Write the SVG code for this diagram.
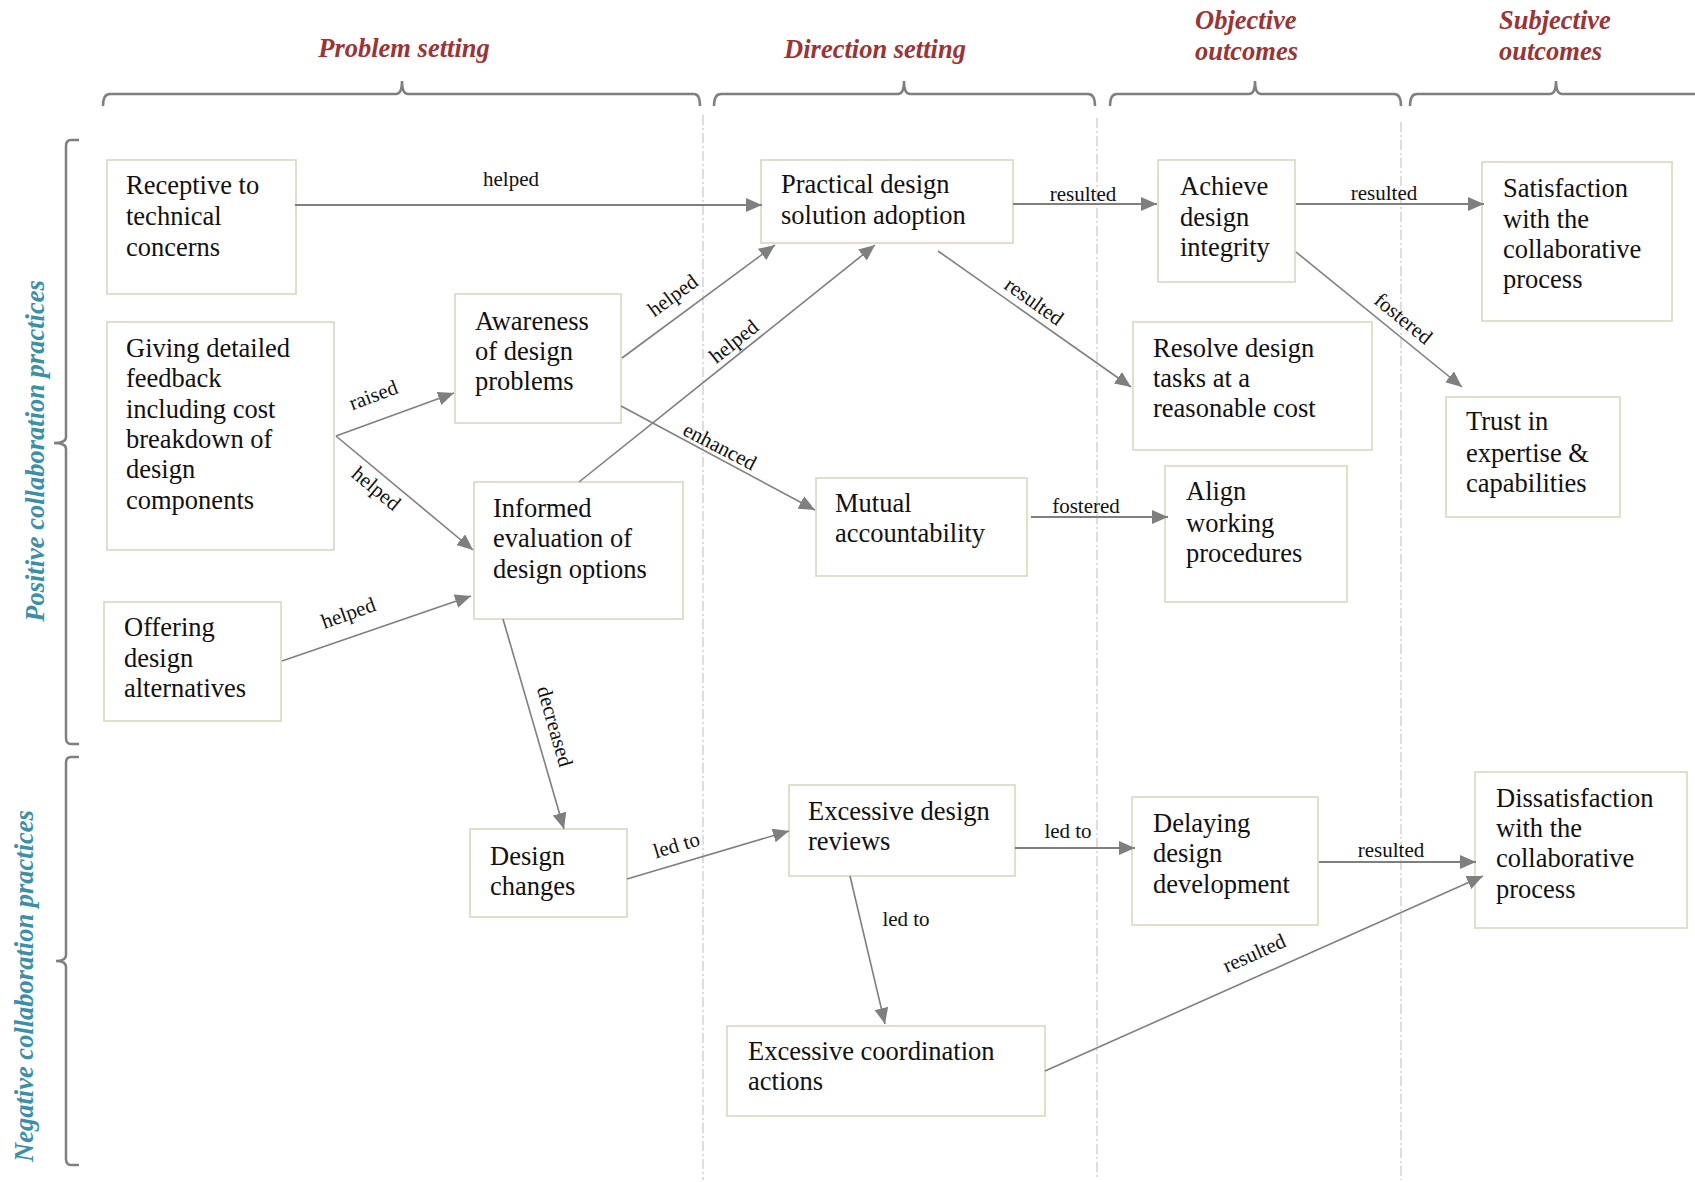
<svg xmlns="http://www.w3.org/2000/svg" width="1695" height="1182" viewBox="0 0 1695 1182">
  <defs>
    <marker id="arrow" viewBox="0 0 16 14" refX="16" refY="7" markerWidth="16" markerHeight="14" markerUnits="userSpaceOnUse" orient="auto">
      <path d="M0,0 L16,7 L0,14 Z" fill="#7f7f7f"/>
    </marker>
    <style>
      .node rect { fill: #ffffff; stroke: #d9d4bd; stroke-width: 1.5; }
      .node text { font-family: "Liberation Serif", "Times New Roman", serif; font-size: 26.5px; fill: #111111; }
      .phase { font-family: "Liberation Serif", "Times New Roman", serif; font-size: 26.5px; font-weight: bold; font-style: italic; fill: #9b3434; }
      .side { font-family: "Liberation Serif", "Times New Roman", serif; font-size: 26.5px; font-weight: bold; font-style: italic; fill: #3c8fa8; }
      .brace { fill: none; stroke: #7f7f7f; stroke-width: 2.5; }
      .lane { fill: none; stroke: #c9c9c9; stroke-width: 1.2; stroke-dasharray: 10 3 2 3; }
      .edge { fill: none; stroke: #7f7f7f; stroke-width: 1.6; marker-end: url(#arrow); }
      .edge.h { stroke-width: 2; }
      .lbl { font-family: "Liberation Serif", "Times New Roman", serif; font-size: 21px; fill: #111111; text-anchor: middle; }
    </style>
  </defs>

  <rect width="1695" height="1182" fill="#ffffff"/>

  <!-- phase headings -->
  <g id="headings">
    <text class="phase" x="404" y="57" text-anchor="middle">Problem setting</text>
    <text class="phase" x="875" y="58" text-anchor="middle">Direction setting</text>
    <text class="phase" x="1195" y="29">Objective</text>
    <text class="phase" x="1195" y="60">outcomes</text>
    <text class="phase" x="1499" y="29">Subjective</text>
    <text class="phase" x="1499" y="60">outcomes</text>
  </g>

  <!-- horizontal braces under the headings -->
  <g id="top-braces">
    <path class="brace" d="M103,106 Q103,94 110,94 L396,94 Q402,94 402,81 Q402,94 408,94 L694,94 Q700,94 700,106"/>
    <path class="brace" d="M714,106 Q714,94 721,94 L898,94 Q904,94 904,81 Q904,94 910,94 L1088,94 Q1095,94 1095,106"/>
    <path class="brace" d="M1110,106 Q1110,94 1117,94 L1249,94 Q1255,94 1255,81 Q1255,94 1261,94 L1394,94 Q1401,94 1401,106"/>
    <path class="brace" d="M1410,106 Q1410,94 1417,94 L1550,94 Q1556,94 1556,81 Q1556,94 1562,94 L1700,94"/>
  </g>

  <!-- phase separators -->
  <g id="lanes">
    <line class="lane" x1="703" y1="115" x2="703" y2="1180"/>
    <line class="lane" x1="1097" y1="118" x2="1097" y2="1180"/>
    <line class="lane" x1="1401" y1="122" x2="1401" y2="1180"/>
  </g>

  <!-- side braces and labels -->
  <g id="side-braces">
    <path class="brace" d="M79,140 L71,140 Q66,140 66,146 L66,437 Q66,443 54,443 Q66,443 66,449 L66,738 Q66,744 71,744 L79,744"/>
    <path class="brace" d="M79,757 L71,757 Q66,757 66,763 L66,955 Q66,961 56,961 Q66,961 66,967 L66,1159 Q66,1165 71,1165 L79,1165"/>
    <text class="side" transform="translate(44,451) rotate(-90)" text-anchor="middle">Positive collaboration practices</text>
    <text class="side" transform="translate(33,986) rotate(-90)" text-anchor="middle">Negative collaboration practices</text>
  </g>

  <!-- nodes -->
  <g id="n-receptive" class="node">
    <rect x="107" y="160" width="189" height="134"/>
    <text x="126" y="194">Receptive to</text>
    <text x="126" y="225">technical</text>
    <text x="126" y="256">concerns</text>
  </g>
  <g id="n-feedback" class="node">
    <rect x="107" y="322" width="227" height="228"/>
    <text x="126" y="357">Giving detailed</text>
    <text x="126" y="387">feedback</text>
    <text x="126" y="418">including cost</text>
    <text x="126" y="448">breakdown of</text>
    <text x="126" y="478">design</text>
    <text x="126" y="509">components</text>
  </g>
  <g id="n-awareness" class="node">
    <rect x="455" y="294" width="166" height="129"/>
    <text x="475" y="330">Awareness</text>
    <text x="475" y="360">of design</text>
    <text x="475" y="390">problems</text>
  </g>
  <g id="n-informed" class="node">
    <rect x="474" y="482" width="209" height="137"/>
    <text x="493" y="517">Informed</text>
    <text x="493" y="547">evaluation of</text>
    <text x="493" y="578">design options</text>
  </g>
  <g id="n-offering" class="node">
    <rect x="104" y="602" width="177" height="119"/>
    <text x="124" y="636">Offering</text>
    <text x="124" y="667">design</text>
    <text x="124" y="697">alternatives</text>
  </g>
  <g id="n-practical" class="node">
    <rect x="761" y="160" width="252" height="83"/>
    <text x="781" y="193">Practical design</text>
    <text x="781" y="224">solution adoption</text>
  </g>
  <g id="n-mutual" class="node">
    <rect x="816" y="478" width="211" height="98"/>
    <text x="835" y="512">Mutual</text>
    <text x="835" y="542">accountability</text>
  </g>
  <g id="n-integrity" class="node">
    <rect x="1158" y="160" width="137" height="122"/>
    <text x="1180" y="195">Achieve</text>
    <text x="1180" y="226">design</text>
    <text x="1180" y="256">integrity</text>
  </g>
  <g id="n-satisfaction" class="node">
    <rect x="1482" y="162" width="190" height="159"/>
    <text x="1503" y="197">Satisfaction</text>
    <text x="1503" y="228">with the</text>
    <text x="1503" y="258">collaborative</text>
    <text x="1503" y="288">process</text>
  </g>
  <g id="n-resolve" class="node">
    <rect x="1133" y="322" width="239" height="128"/>
    <text x="1153" y="357">Resolve design</text>
    <text x="1153" y="387">tasks at a</text>
    <text x="1153" y="417">reasonable cost</text>
  </g>
  <g id="n-trust" class="node">
    <rect x="1446" y="397" width="174" height="120"/>
    <text x="1466" y="430">Trust in</text>
    <text x="1466" y="462">expertise &amp;</text>
    <text x="1466" y="492">capabilities</text>
  </g>
  <g id="n-align" class="node">
    <rect x="1165" y="466" width="182" height="136"/>
    <text x="1186" y="500">Align</text>
    <text x="1186" y="532">working</text>
    <text x="1186" y="562">procedures</text>
  </g>
  <g id="n-changes" class="node">
    <rect x="470" y="829" width="157" height="88"/>
    <text x="490" y="865">Design</text>
    <text x="490" y="895">changes</text>
  </g>
  <g id="n-reviews" class="node">
    <rect x="789" y="785" width="226" height="91"/>
    <text x="808" y="820">Excessive design</text>
    <text x="808" y="850">reviews</text>
  </g>
  <g id="n-delaying" class="node">
    <rect x="1132" y="797" width="186" height="128"/>
    <text x="1153" y="832">Delaying</text>
    <text x="1153" y="862">design</text>
    <text x="1153" y="893">development</text>
  </g>
  <g id="n-dissatisfaction" class="node">
    <rect x="1475" y="772" width="212" height="156"/>
    <text x="1496" y="807">Dissatisfaction</text>
    <text x="1496" y="837">with the</text>
    <text x="1496" y="867">collaborative</text>
    <text x="1496" y="898">process</text>
  </g>
  <g id="n-coordination" class="node">
    <rect x="727" y="1026" width="318" height="90"/>
    <text x="748" y="1060">Excessive coordination</text>
    <text x="748" y="1090">actions</text>
  </g>

  <!-- connectors -->
  <g id="connectors">
    <line class="edge h" x1="295" y1="205" x2="762" y2="205"/>
    <line class="edge h" x1="1013" y1="204" x2="1157" y2="204"/>
    <line class="edge h" x1="1296" y1="204" x2="1484" y2="204"/>
    <line class="edge" x1="622" y1="358" x2="775" y2="245"/>
    <line class="edge" x1="579" y1="482" x2="875" y2="245"/>
    <line class="edge" x1="336" y1="436" x2="454" y2="393"/>
    <line class="edge" x1="336" y1="436" x2="473" y2="550"/>
    <line class="edge" x1="282" y1="661" x2="471" y2="596"/>
    <line class="edge" x1="621" y1="406" x2="815" y2="510"/>
    <line class="edge" x1="938" y1="251" x2="1131" y2="387"/>
    <line class="edge" x1="1296" y1="252" x2="1462" y2="387"/>
    <line class="edge h" x1="1031" y1="517" x2="1168" y2="517"/>
    <line class="edge" x1="503" y1="619" x2="564" y2="829"/>
    <line class="edge" x1="627" y1="879" x2="789" y2="831"/>
    <line class="edge h" x1="1015" y1="848" x2="1135" y2="848"/>
    <line class="edge" x1="850" y1="876" x2="885" y2="1024"/>
    <line class="edge h" x1="1319" y1="862" x2="1476" y2="862"/>
    <line class="edge" x1="1045" y1="1071" x2="1483" y2="876"/>

    <text class="lbl" x="511" y="186">helped</text>
    <text class="lbl" x="1083" y="201">resulted</text>
    <text class="lbl" x="1384" y="200">resulted</text>
    <text class="lbl" x="1086" y="513">fostered</text>
    <text class="lbl" x="1068" y="838">led to</text>
    <text class="lbl" x="906" y="926">led to</text>
    <text class="lbl" x="1391" y="857">resulted</text>

    <text class="lbl" transform="translate(674,297) rotate(-36)" y="5">helped</text>
    <text class="lbl" transform="translate(735,343) rotate(-38.5)" y="5">helped</text>
    <text class="lbl" transform="translate(374,397) rotate(-20.4)" y="5">raised</text>
    <text class="lbl" transform="translate(375,490) rotate(39.8)" y="5">helped</text>
    <text class="lbl" transform="translate(349,615) rotate(-19.5)" y="5">helped</text>
    <text class="lbl" transform="translate(719,448) rotate(27.5)" y="5">enhanced</text>
    <text class="lbl" transform="translate(1033,303) rotate(35.5)" y="5">resulted</text>
    <text class="lbl" transform="translate(1402,320) rotate(39.3)" y="5">fostered</text>
    <text class="lbl" transform="translate(553,727) rotate(74)" y="5">decreased</text>
    <text class="lbl" transform="translate(677,847) rotate(-16.5)" y="5">led to</text>
    <text class="lbl" transform="translate(1255,955) rotate(-24)" y="5">resulted</text>
  </g>
</svg>
